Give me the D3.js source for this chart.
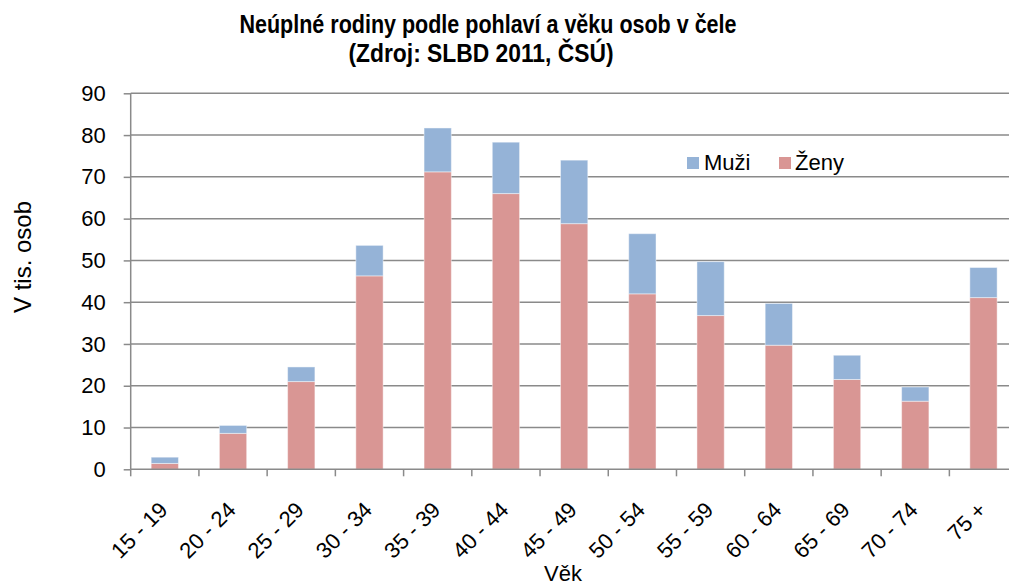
<!DOCTYPE html>
<html>
<head>
<meta charset="utf-8">
<script src="https://cdn.jsdelivr.net/npm/d3@7"></script>
<style>
  html, body { margin: 0; padding: 0; background: #fff; }
  svg { display: block; font-family: "Liberation Sans", Arial, sans-serif; }
</style>
</head>
<body>
<svg id="chart" width="1009" height="585"></svg>
<script>
const categories = ["15 - 19","20 - 24","25 - 29","30 - 34","35 - 39","40 - 44","45 - 49","50 - 54","55 - 59","60 - 64","65 - 69","70 - 74","75 +"];
const zeny = [1.4, 8.6, 21.0, 46.3, 71.2, 66.0, 58.8, 42.0, 36.8, 29.7, 21.5, 16.3, 41.1];
const muzi = [1.5, 1.9, 3.5, 7.3, 10.5, 12.3, 15.2, 14.4, 12.9, 10.0, 5.8, 3.4, 7.2];
const yTicks = [0, 10, 20, 30, 40, 50, 60, 70, 80, 90];
const seriesNames = ["Ženy", "Muži"];
const colors = { "Ženy": "#D99694", "Muži": "#95B3D7" };
const titleLines = ["Neúplné rodiny podle pohlaví a věku osob v čele", "(Zdroj: SLBD 2011, ČSÚ)"];

const svg = d3.select("#chart");
const plot = { left: 130.7, right: 1017.6, top: 93.3, bottom: 469.3 };
const gridColor = "#8a8a8a";

const x = d3.scaleBand().domain(categories).range([plot.left, plot.right]).padding(0);
const y = d3.scaleLinear().domain([0, 90]).range([plot.bottom, plot.top]);

// gridlines
svg.append("g").selectAll("line").data(yTicks.filter(d => d > 0)).join("line")
  .attr("x1", plot.left).attr("x2", plot.right)
  .attr("y1", d => y(d)).attr("y2", d => y(d))
  .attr("stroke", gridColor).attr("stroke-width", 1.5);

// stacked data
const rows = categories.map((c, i) => ({ cat: c, "Ženy": zeny[i], "Muži": muzi[i] }));
const stack = d3.stack().keys(seriesNames)(rows);

const barW = x.bandwidth() * 0.4;
const barOff = (x.bandwidth() - barW) / 2;

svg.append("g").selectAll("g").data(stack).join("g")
  .attr("fill", d => colors[d.key])
  .selectAll("rect").data(d => d).join("rect")
  .attr("x", d => x(d.data.cat) + barOff)
  .attr("width", barW)
  .attr("y", d => y(d[1]))
  .attr("height", d => y(d[0]) - y(d[1]))
  .attr("stroke", "#ffffff").attr("stroke-opacity", 0.45).attr("stroke-width", 1);

// y axis
const yAxis = d3.axisLeft(y).tickValues(yTicks).tickSize(7).tickPadding(18).tickFormat(d3.format("d"));
const gy = svg.append("g").attr("transform", `translate(${plot.left},0)`).call(yAxis);
gy.select(".domain").attr("stroke", gridColor).attr("stroke-width", 1.5).attr("d", `M-0,${plot.top}V${plot.bottom}`);
gy.selectAll(".tick line").attr("stroke", gridColor).attr("stroke-width", 1.5);
gy.selectAll(".tick text").attr("font-size", 22).attr("fill", "#000")
  .attr("font-family", "'Liberation Sans', Arial, sans-serif");

// x axis baseline and ticks at category boundaries
const bounds = categories.map(c => x(c)).concat([plot.right]);
svg.append("line").attr("x1", plot.left).attr("x2", plot.right)
  .attr("y1", y(0)).attr("y2", y(0)).attr("stroke", gridColor).attr("stroke-width", 1.5);
svg.append("g").selectAll("line").data(bounds).join("line")
  .attr("x1", d => d).attr("x2", d => d)
  .attr("y1", y(0)).attr("y2", y(0) + 7)
  .attr("stroke", gridColor).attr("stroke-width", 1.5);

// x labels rotated
svg.append("g").selectAll("text").data(categories).join("text")
  .attr("transform", d => `translate(${x(d) + x.bandwidth() / 2 + 4},${y(0) + 42}) rotate(-45)`)
  .attr("text-anchor", "end")
  .attr("font-size", 22).attr("fill", "#000")
  .text(d => d);

// axis titles
svg.append("text").attr("x", 563).attr("y", 581).attr("text-anchor", "middle")
  .attr("font-size", 22).text("Věk");
svg.append("text").attr("transform", "translate(31,257) rotate(-90)")
  .attr("text-anchor", "middle").attr("font-size", 24).text("V tis. osob");

// title
svg.append("text").attr("x", 488).attr("y", 33).attr("text-anchor", "middle")
  .attr("font-size", 25).attr("font-weight", "bold")
  .attr("textLength", 497).attr("lengthAdjust", "spacingAndGlyphs")
  .text(titleLines[0]);
svg.append("text").attr("x", 481).attr("y", 62).attr("text-anchor", "middle")
  .attr("font-size", 25).attr("font-weight", "bold")
  .attr("textLength", 265).attr("lengthAdjust", "spacingAndGlyphs")
  .text(titleLines[1]);

// legend
const legendItems = [{ name: "Muži", sx: 687, tx: 704 }, { name: "Ženy", sx: 779, tx: 795 }];
const lg = svg.append("g");
lg.selectAll("rect").data(legendItems).join("rect")
  .attr("x", d => d.sx).attr("y", 157).attr("width", 12).attr("height", 12)
  .attr("fill", d => colors[d.name]);
lg.selectAll("text").data(legendItems).join("text")
  .attr("x", d => d.tx).attr("y", 169.5).attr("font-size", 22).text(d => d.name);
</script>
</body>
</html>
